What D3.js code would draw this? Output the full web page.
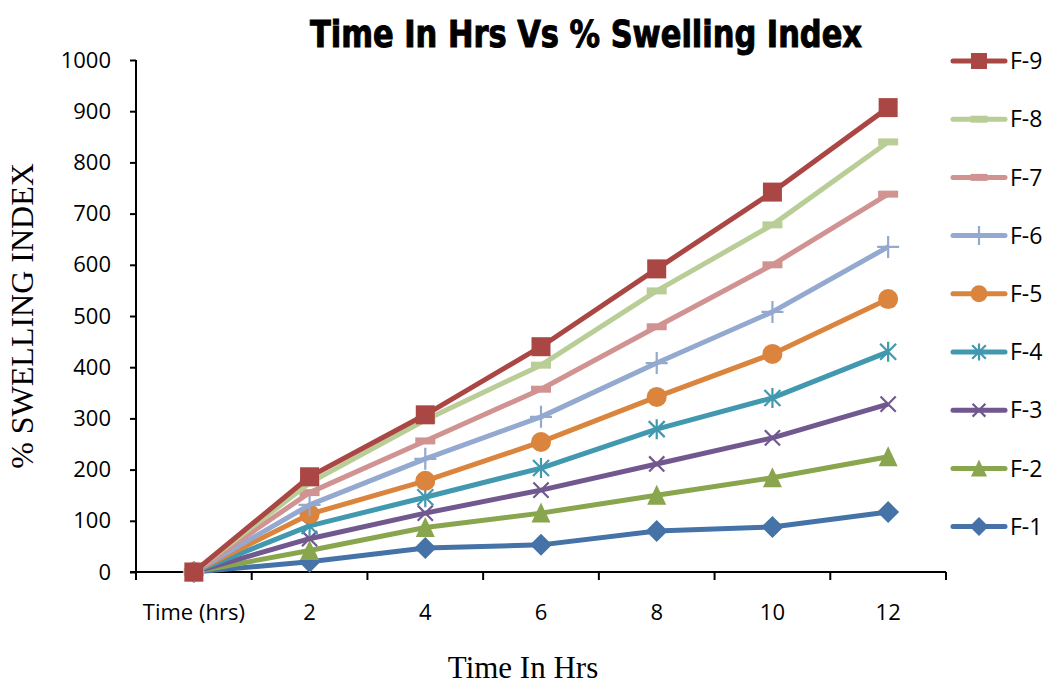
<!DOCTYPE html>
<html>
<head>
<meta charset="utf-8">
<script src="https://cdn.jsdelivr.net/npm/d3@7"></script>
<style>
  body { margin: 0; background: #fff; }
  svg { display: block; }
</style>
</head>
<body>
<div id="chart"></div>
<script>
// Chart data
const categories = ['Time (hrs)', '2', '4', '6', '8', '10', '12'];
const seriesNames = ['F-1', 'F-2', 'F-3', 'F-4', 'F-5', 'F-6', 'F-7', 'F-8', 'F-9'];
const f1 = [0, 20, 47, 53, 80, 88, 117];
const f2 = [0, 42, 87, 115, 150, 184, 225];
const f3 = [0, 65, 115, 160, 211, 262, 328];
const f4 = [0, 90, 146, 203, 279, 340, 430];
const f5 = [0, 113, 178, 254, 342, 426, 533];
const f6 = [0, 131, 221, 303, 408, 508, 635];
const f7 = [0, 155, 256, 357, 479, 600, 738];
const f8 = [0, 174, 297, 404, 549, 678, 840];
const f9 = [0, 186, 307, 440, 592, 742, 907];
const yTicks = [0, 100, 200, 300, 400, 500, 600, 700, 800, 900, 1000];

const seriesValues = [f1, f2, f3, f4, f5, f6, f7, f8, f9];
const colors = ['#4572A7', '#89A54E', '#71588F', '#4198AF', '#DB843D', '#93A9CF', '#D19392', '#B9CD96', '#AA4643'];
const markers = ['diamond', 'triangle', 'x', 'star', 'circle', 'plus', 'dash', 'dash', 'square'];

const width = 1048, height = 686;
const margin = {top: 60, right: 102, bottom: 114, left: 136};
const labelFont = '"Open Sans", sans-serif';
const serifFont = '"Liberation Serif", "DejaVu Serif", serif';

const svg = d3.select('#chart').append('svg')
    .attr('width', width)
    .attr('height', height);

const x = d3.scaleBand()
    .domain(categories)
    .range([margin.left, width - margin.right]);

const y = d3.scaleLinear()
    .domain([0, 1000])
    .range([height - margin.bottom, margin.top]);

const cx = c => x(c) + x.bandwidth() / 2;

// Title
svg.append('text')
    .attr('x', 586)
    .attr('y', 47)
    .attr('text-anchor', 'middle')
    .attr('font-family', '"Liberation Sans Narrow", "DejaVu Sans Condensed", sans-serif')
    .attr('font-weight', 'bold')
    .attr('font-size', 38)
    .attr('stroke', '#000')
    .attr('stroke-width', 1)
    .attr('textLength', 552)
    .attr('lengthAdjust', 'spacingAndGlyphs')
    .text('Time In Hrs Vs % Swelling Index');

// Y axis
const yAxis = svg.append('g')
    .attr('transform', `translate(${margin.left},0)`)
    .call(d3.axisLeft(y).tickValues(yTicks).tickFormat(d3.format('d')).tickSize(6).tickPadding(19));
yAxis.select('.domain').attr('stroke', '#000').attr('stroke-width', 2)
    .attr('d', `M0,${y(1000)}V${y(0) + 8}`);
yAxis.selectAll('.tick line').attr('stroke', '#000').attr('stroke-width', 2);
yAxis.selectAll('.tick text')
    .attr('font-family', labelFont)
    .attr('font-size', 22)
    .attr('fill', '#000');

// X axis
const xAxis = svg.append('g')
    .attr('transform', `translate(0,${y(0)})`)
    .call(d3.axisBottom(x).tickSize(0).tickPadding(32));
xAxis.select('.domain').attr('stroke', '#000').attr('stroke-width', 2)
    .attr('d', `M${margin.left - 6},0H${width - margin.right}`);
xAxis.selectAll('.tick text')
    .attr('font-family', labelFont)
    .attr('font-size', 22)
    .attr('fill', '#000');

// tick marks between categories
const bounds = categories.map(c => x(c)).concat([x.range()[1]]);
xAxis.selectAll('.cat-tick')
    .data(bounds)
    .enter().append('line')
    .attr('class', 'cat-tick')
    .attr('x1', d => d).attr('x2', d => d)
    .attr('y1', 0).attr('y2', 8)
    .attr('stroke', '#000')
    .attr('stroke-width', 2);

// Axis titles
svg.append('text')
    .attr('transform', `translate(33,${(y(0) + y(1000)) / 2}) rotate(-90)`)
    .attr('text-anchor', 'middle')
    .attr('font-family', serifFont)
    .attr('font-size', 32)
    .text('% SWELLING INDEX');

svg.append('text')
    .attr('x', 523)
    .attr('y', 678)
    .attr('text-anchor', 'middle')
    .attr('font-family', serifFont)
    .attr('font-size', 31)
    .text('Time In Hrs');

// Marker drawing helper
function drawMarker(g, type, color, px, py, s) {
    const h = s / 2;
    if (type === 'square') {
        g.append('rect').attr('x', px - h).attr('y', py - h)
            .attr('width', s).attr('height', s).attr('fill', color);
    } else if (type === 'circle') {
        g.append('circle').attr('cx', px).attr('cy', py).attr('r', h).attr('fill', color);
    } else if (type === 'diamond') {
        g.append('path')
            .attr('d', `M${px},${py - h - 1}L${px + h + 1},${py}L${px},${py + h + 1}L${px - h - 1},${py}Z`)
            .attr('fill', color);
    } else if (type === 'triangle') {
        g.append('path')
            .attr('d', `M${px},${py - h - 1}L${px + h},${py + h}L${px - h},${py + h}Z`)
            .attr('fill', color);
    } else if (type === 'dash') {
        g.append('rect').attr('x', px - h).attr('y', py - 3.5)
            .attr('width', s).attr('height', 7).attr('fill', color);
    } else {
        let d = '';
        if (type === 'plus') d += `M${px - h},${py}H${px + h}`;
        if (type === 'plus' || type === 'star') d += `M${px},${py - h}V${py + h}`;
        if (type === 'x' || type === 'star') {
            const k = h * 0.8;
            d += `M${px - k},${py - k}L${px + k},${py + k}M${px - k},${py + k}L${px + k},${py - k}`;
        }
        g.append('path').attr('d', d).attr('stroke', color).attr('stroke-width', 2.2).attr('fill', 'none');
    }
}

const markerSize = [20, 19, 19, 20, 20, 22, 20, 20, 19];

const line = d3.line()
    .x((d, i) => cx(categories[i]))
    .y(d => y(d));

// Series (F-1 drawn first, F-9 on top)
seriesValues.forEach((vals, si) => {
    const g = svg.append('g').attr('class', 'series');
    g.append('path')
        .datum(vals)
        .attr('d', line)
        .attr('fill', 'none')
        .attr('stroke', colors[si])
        .attr('stroke-width', 5)
        .attr('stroke-linejoin', 'round');
    vals.forEach((v, i) => drawMarker(g, markers[si], colors[si], cx(categories[i]), y(v), markerSize[si]));
});

// Legend (F-9 at top)
const legend = svg.append('g').attr('class', 'legend');
const legendOrder = d3.range(seriesNames.length).reverse();
legendOrder.forEach((si, row) => {
    const ly = 61 + row * 58.2;
    legend.append('line')
        .attr('x1', 953).attr('x2', 1005)
        .attr('y1', ly).attr('y2', ly)
        .attr('stroke', colors[si])
        .attr('stroke-width', 5)
        .attr('stroke-linecap', 'round');
    drawMarker(legend, markers[si], colors[si], 979, ly, markerSize[si] - 3);
    legend.append('text')
        .attr('x', 1010)
        .attr('y', ly)
        .attr('dy', '0.36em')
        .attr('font-family', labelFont)
        .attr('font-size', 23)
        .text(seriesNames[si]);
});
</script>
</body>
</html>
